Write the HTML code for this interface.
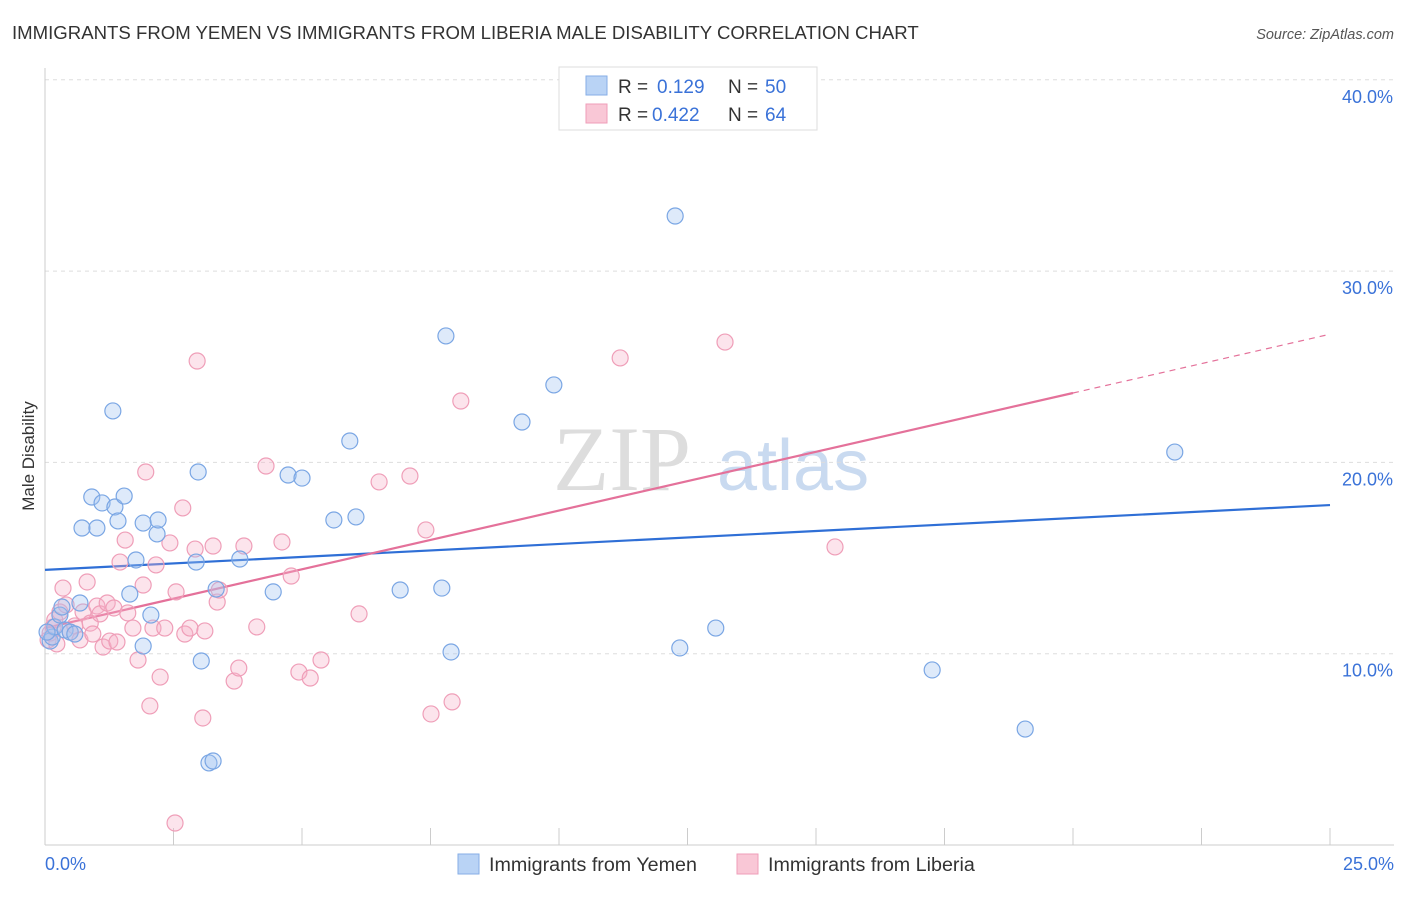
<!DOCTYPE html>
<html><head><meta charset="utf-8"><style>
body{margin:0;background:#fff;font-family:"Liberation Sans",sans-serif}
svg text{font-family:"Liberation Sans",sans-serif}
</style></head><body>
<svg id="c" width="1406" height="892" xmlns="http://www.w3.org/2000/svg">
<text x="12" y="39" font-size="18.6" fill="#333">IMMIGRANTS FROM YEMEN VS IMMIGRANTS FROM LIBERIA MALE DISABILITY CORRELATION CHART</text>
<text x="1394" y="39" font-size="14.5" fill="#555" font-style="italic" text-anchor="end">Source: ZipAtlas.com</text>
<text x="34" y="456" font-size="17" fill="#333" transform="rotate(-90 34 456)" text-anchor="middle">Male Disability</text>
<g><text x="553" y="490" font-size="92" fill="#ddd" font-family="Liberation Serif" style="font-family:'Liberation Serif',serif">ZIP</text><text x="717" y="490" font-size="72" fill="#c9daf0">atlas</text></g>
<g id="grid"></g><g id="axes"></g><g id="trend"></g><g id="pts"></g>
<g>
<rect x="559" y="67" width="258" height="63" fill="#fff" stroke="#ddd"/>
<rect x="586" y="76" width="21" height="19" fill="#b9d3f5" stroke="#86aee6"/>
<rect x="586" y="104" width="21" height="19" fill="#f9c7d6" stroke="#ef9eb8"/>
<text x="618" y="93" font-size="19" fill="#333">R = </text><text x="657" y="93" font-size="19" fill="#3a72d8">0.129</text>
<text x="728" y="93" font-size="19" fill="#333">N = </text><text x="765" y="93" font-size="19" fill="#3a72d8">50</text>
<text x="618" y="121" font-size="19" fill="#333">R = </text><text x="652" y="121" font-size="19" fill="#3a72d8">0.422</text>
<text x="728" y="121" font-size="19" fill="#333">N = </text><text x="765" y="121" font-size="19" fill="#3a72d8">64</text>
</g>
<g>
<rect x="458" y="854" width="21" height="20" fill="#b9d3f5" stroke="#86aee6"/>
<text x="489" y="871" font-size="19.7" fill="#333">Immigrants from Yemen</text>
<rect x="737" y="854" width="21" height="20" fill="#f9c7d6" stroke="#ef9eb8"/>
<text x="768" y="871" font-size="19.7" fill="#333">Immigrants from Liberia</text>
</g>
</svg>
<script>
const yTicks=[10,20,30,40];
const yTickLabels=["10.0%","20.0%","30.0%","40.0%"];
const xEndLabels=["0.0%","25.0%"];
const yemenX=[0.10,0.14,0.19,0.29,0.33,0.39,0.49,0.58,0.68,0.72,0.91,1.01,1.11,1.32,1.36,1.42,1.54,1.65,1.77,1.91,1.91,2.06,2.18,2.20,2.94,2.98,3.04,3.19,3.27,3.33,3.79,4.44,4.73,5.00,5.62,5.93,6.05,6.91,7.72,7.80,7.90,9.28,9.90,12.26,12.35,13.05,17.26,19.07,21.98,0.04];
const yemenY=[10.66,10.87,11.40,12.02,12.44,11.24,11.13,11.03,12.65,16.57,18.19,16.57,17.88,22.69,17.67,16.94,18.24,13.12,14.90,16.83,10.40,12.02,16.26,16.99,14.79,19.50,9.62,4.29,4.39,13.38,14.95,13.23,19.34,19.18,16.99,21.12,17.15,13.33,13.43,26.61,10.09,22.11,24.05,32.88,10.30,11.34,9.15,6.06,20.54,11.13];
const liberiaX=[0.06,0.10,0.16,0.19,0.23,0.29,0.35,0.41,0.49,0.58,0.68,0.74,0.82,0.88,0.93,1.01,1.07,1.13,1.21,1.26,1.34,1.40,1.46,1.56,1.61,1.71,1.81,1.91,1.96,2.04,2.10,2.16,2.24,2.33,2.43,2.55,2.68,2.72,2.82,2.92,2.96,3.07,3.11,3.27,3.35,3.39,3.68,3.77,3.87,4.12,4.30,4.61,4.79,4.94,5.16,5.37,6.11,6.50,7.10,7.41,7.51,7.92,8.09,11.19,13.23,15.37,2.53];
const liberiaY=[10.72,11.08,11.40,11.76,10.51,12.18,13.43,12.55,11.13,11.45,10.72,12.18,13.75,11.60,11.03,12.49,12.08,10.35,12.65,10.66,12.39,10.61,14.79,15.94,12.13,11.34,9.67,13.59,19.50,7.27,11.34,14.64,8.78,11.34,15.79,13.23,17.62,11.03,11.34,15.47,25.30,6.64,11.19,15.63,12.70,13.33,8.57,9.25,15.63,11.40,19.81,15.84,14.06,9.04,8.73,9.67,12.08,18.98,19.29,16.47,6.85,7.48,23.21,25.46,26.29,15.58,1.15];
const yemenTrend=[14.38,17.77];
const liberiaTrend=[11.34,26.7];
const liberiaSolidEnd=20;

const NS="http://www.w3.org/2000/svg";
const X=v=>45+v*(1330-45)/25, Y=v=>845-v*19.13;
function mk(t,a,p){const e=document.createElementNS(NS,t);for(const k in a)e.setAttribute(k,a[k]);p.appendChild(e);return e;}
const grid=document.getElementById('grid'),axes=document.getElementById('axes'),trend=document.getElementById('trend'),pts=document.getElementById('pts');
yTicks.forEach((t,i)=>{
  const l=mk('line',{x1:45,x2:1394,y1:Y(t),y2:Y(t),stroke:'#ddd','stroke-dasharray':'4,4'},grid);
  
  
  const tx=mk('text',{x:1393,y:Y(t)+23,'font-size':18,fill:'#3a72d8','text-anchor':'end'},axes);tx.textContent=yTickLabels[i];
  
  
});
mk('line',{x1:45,x2:45,y1:68,y2:845,stroke:'#ccc'},axes);
mk('line',{x1:45,x2:1394,y1:845,y2:845,stroke:'#ccc'},axes);
for(let i=0;i<=10;i++){const t=mk('line',{x1:X(i*2.5),x2:X(i*2.5),y1:828,y2:845,stroke:'#ccc'},axes);
  
  }
[[0,'start',45],[25,'end',1394]].forEach((d,i)=>{const t=mk('text',{x:d[2],y:870,'font-size':18,fill:'#3a72d8','text-anchor':d[1]},axes);t.textContent=xEndLabels[i];
  
  });
function dots(xs,ys,fill,stroke,name){xs.forEach((x,i)=>{const c=mk('circle',{cx:X(x),cy:Y(ys[i]),r:8,fill:fill,stroke:stroke,'stroke-width':1.2},pts);
  
  });}
dots(liberiaX,liberiaY,'rgba(246,178,200,0.35)','#ef9eb8','liberia-point');
dots(yemenX,yemenY,'rgba(160,195,240,0.35)','#7aa6e4','yemen-point');
const by=mk('line',{x1:X(0),y1:Y(yemenTrend[0]),x2:X(25),y2:Y(yemenTrend[1]),stroke:'#2f6fd6','stroke-width':2.2},trend);


const pv=x=>liberiaTrend[0]+(liberiaTrend[1]-liberiaTrend[0])*x/25;
const ps=mk('line',{x1:X(0),y1:Y(pv(0)),x2:X(liberiaSolidEnd),y2:Y(pv(liberiaSolidEnd)),stroke:'#e4719a','stroke-width':2.2},trend);


const pd=mk('line',{x1:X(liberiaSolidEnd),y1:Y(pv(liberiaSolidEnd)),x2:X(25),y2:Y(pv(25)),stroke:'#e4719a','stroke-width':1.2,'stroke-dasharray':'6,5'},trend);


</script>
</body></html>
